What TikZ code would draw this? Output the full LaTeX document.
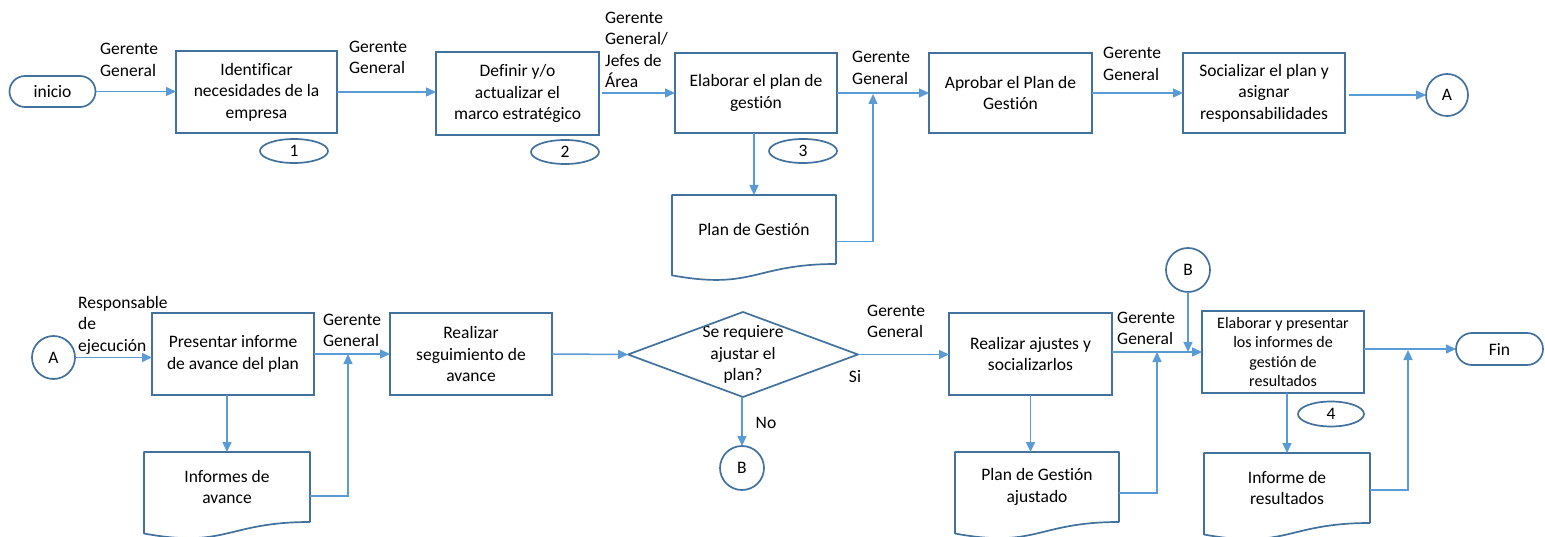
\documentclass[tikz,border=0pt]{standalone}
\usepackage{fontspec}
\setmainfont[Ligatures={NoCommon}]{Carlito}
\usetikzlibrary{arrows.meta,shapes.geometric,calc}

\definecolor{edgeblue}{RGB}{65,113,156}
\definecolor{flowblue}{RGB}{91,155,213}

\tikzset{
  txt/.style={font=\fontsize{17.5pt}{21.5pt}\selectfont, text=black},
  stepbox/.style={txt, draw=edgeblue, line width=1.7pt, rectangle, align=center,
    inner sep=2pt, outer sep=0pt, minimum width=162pt, minimum height=82pt},
  terminal/.style={txt, draw=edgeblue, line width=1.7pt, rectangle, rounded corners=15.5pt,
    minimum width=86pt, minimum height=31pt, inner sep=0pt, outer sep=0pt},
  connector/.style={txt, draw=edgeblue, line width=1.7pt, circle, minimum size=43pt,
    inner sep=0pt, outer sep=0pt},
  stepno/.style={txt, draw=edgeblue, line width=1.7pt, ellipse, minimum width=68pt,
    minimum height=24pt, inner sep=0pt, outer sep=0pt},
  docbody/.style={txt, align=center, rectangle, inner sep=0pt, outer sep=0pt,
    minimum width=165pt, minimum height=70pt},
  docline/.style={draw=edgeblue, line width=1.7pt, line join=round},
  decision/.style={txt, align=center, rectangle, minimum width=230pt,
    minimum height=85pt, inner sep=0pt, outer sep=0pt},
  role/.style={txt, anchor=west, align=left, inner sep=0pt},
  flow/.style={draw=flowblue, line width=1.5pt, -{Triangle[length=10pt,width=9pt]}},
}

% document symbol: wavy lower edge below the node's rectangle
\newcommand{\docshape}[1]{%
  \draw[docline] (#1.south east) -- (#1.north east) -- (#1.north west)
    -- ($(#1.north west)!1.1645!(#1.south west)$)
    .. controls ($(#1.north)!1.381!(#1.south)$) and (#1.south) .. (#1.south east);
}

\begin{document}
\begin{tikzpicture}[x=1pt,y=-1pt]
\useasboundingbox (0,0) rectangle (1545,537);

% ---------- upper row ----------
\node[terminal] (inicio) at (52.5,91.5) {inicio};
\node[stepbox, minimum width=161pt] (b1) at (256.5,92) {Identificar\\necesidades de la\\empresa};
\node[stepbox, minimum width=163pt, minimum height=83pt] (b2) at (517.5,93.5) {Definir y/o\\actualizar el\\marco estratégico};
\node[stepbox, minimum height=80pt] (b3) at (756,93) {Elaborar el plan de\\gestión};
\node[stepbox, minimum width=163pt, minimum height=80pt] (b4) at (1010.5,93) {Aprobar el Plan de\\Gestión};
\node[stepbox, minimum height=80pt] (b5) at (1264,93) {Socializar el plan y\\asignar\\responsabilidades};
\node[connector, minimum size=42pt] (ca1) at (1447,95) {A};

\node[stepno] (n1) at (294,151) {1};
\node[stepno] (n2) at (565,152) {2};
\node[stepno] (n3) at (803,151) {3};

\node[docbody, minimum width=164pt, minimum height=69pt] (d1) at (754,229.5) {Plan de Gestión};
\docshape{d1}

\node[role] (r1) at (100,60) {Gerente\\General};
\node[role] (r2) at (349,57.5) {Gerente\\General};
\node[role] (r3) at (605,50) {Gerente\\General/\\Jefes de\\Área};
\node[role] (r4) at (852,68) {Gerente\\General};
\node[role] (r5) at (1103,64) {Gerente\\General};

\draw[flow] (inicio.east) -- (inicio.east -| b1.west);
\draw[flow] (b1.east) -- (b1.east -| b2.west);
\draw[flow] ([xshift=3pt]b2.east |- b3.west) -- (b3.west);
\draw[flow] (b3.east) -- (b3.east -| b4.west);
\draw[flow] (b4.east) -- (b4.east -| b5.west);
\draw[flow] ([xshift=4pt]b5.east |- ca1.west) -- (ca1.west);
\draw[flow] (d1.north |- b3.south) -- (d1.north);
\coordinate (j1) at (873,94);
\draw[flow] ([yshift=-12pt]d1.east) -| (j1);

% ---------- lower row ----------
\node[connector] (ca2) at (53.5,357.5) {A};
\node[stepbox] (c1) at (233,354) {Presentar informe\\de avance del plan};
\node[stepbox] (c2) at (471,354) {Realizar\\seguimiento de\\avance};
\node[decision] (dia) at (743,354.5) {Se requiere\\ajustar el\\plan?};
\draw[docline] (dia.west) -- (dia.north) -- (dia.east) -- (dia.south) -- cycle;
\node[connector, minimum size=44pt] (cb1) at (742,468) {B};
\node[stepbox, minimum width=163pt] (c3) at (1030.5,354) {Realizar ajustes y\\socializarlos};
\node[connector, minimum size=44pt] (cb2) at (1188,270) {B};
\node[stepbox, font=\fontsize{16pt}{19.5pt}\selectfont] (c4) at (1283,352) {Elaborar y presentar\\los informes de\\gestión de\\resultados};
\node[terminal, minimum width=87pt, minimum height=32pt, rounded corners=16pt] (fin) at (1499.5,349) {Fin};
\node[stepno, minimum width=66pt, minimum height=25pt] (n4) at (1331,414) {4};

\node[docbody, minimum width=166pt] (d2) at (227,487) {Informes de\\avance};
\docshape{d2}
\node[docbody, minimum width=164pt] (d3) at (1037,487) {Plan de Gestión\\ajustado};
\docshape{d3}
\node[docbody, minimum width=166pt] (d4) at (1287,488) {Informe de\\resultados};
\docshape{d4}

\node[role] (r6) at (78,325) {Responsable\\de\\ejecución};
\node[role] (r7) at (323,330.5) {Gerente\\General};
\node[role] (r8) at (867,321.5) {Gerente\\General};
\node[role] (r9) at (1117,328.5) {Gerente\\General};
\node[txt, inner sep=0pt] (si) at (855,377) {Si};
\node[txt, inner sep=0pt] (no) at (766,423) {No};

\draw[flow] (ca2.east) -- (ca2.east -| c1.west);
\draw[flow] (c1.east) -- (c1.east -| c2.west);
\draw[flow] (d2.north |- c1.south) -- (d2.north);
\coordinate (j2) at (348,354);
\draw[flow] ([yshift=-9pt]d2.east) -| (j2);
\draw[flow] (c2.east) -- (dia.west);
\draw[flow] (dia.east) -- (dia.east -| c3.west);
\draw[flow] (cb1.north |- dia.south) -- (cb1.north);
\draw[flow] (c3.south) -- (c3.south |- d3.north);
\coordinate (j3) at (1157,352);
\draw[flow] ([yshift=-6pt]d3.east) -| (j3);
\draw[flow] (c3.east |- c4.west) -- (c4.west);
\draw[flow] (cb2.south) -- (cb2.south |- c4.west);
\draw[flow] (d4.north |- c4.south) -- (d4.north);
\coordinate (j5) at (1408,350);
\draw[flow] ([yshift=-2pt]d4.east) -| (j5);
\draw[flow] (c4.east |- fin.west) -- (fin.west);
\end{tikzpicture}
\end{document}
